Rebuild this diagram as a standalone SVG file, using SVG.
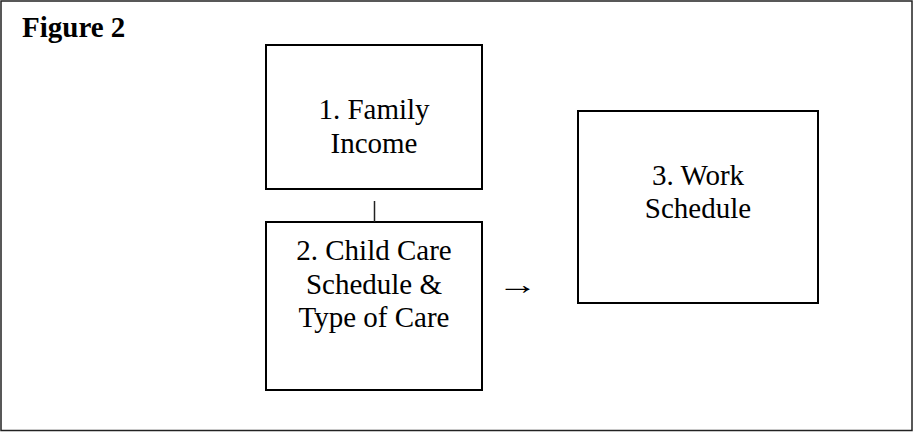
<svg xmlns="http://www.w3.org/2000/svg" width="913" height="432" viewBox="0 0 913 432">
<style>
.box{fill:#fff;stroke:#000;stroke-width:2}
.t{font-family:'Liberation Serif',serif;font-size:29px;font-weight:normal;fill:#000;text-anchor:middle}
.conn{stroke:#222;stroke-width:1.5;fill:none}
</style>
<rect x="1" y="1" width="911" height="429.5" fill="#fff" stroke="#222" stroke-width="1.5"/>
<text x="22" y="37" font-family="'Liberation Serif', serif" font-weight="bold" font-size="29" fill="#000">Figure 2</text>
<g id="node1">
<rect class="box" x="266" y="45" width="216" height="144"/>
<text class="t" x="374" y="119">1. Family</text>
<text class="t" x="374" y="153">Income</text>
</g>
<g id="node2">
<rect class="box" x="266" y="222" width="216" height="168"/>
<text class="t" x="374" y="260">2. Child Care</text>
<text class="t" x="374" y="293.5">Schedule &amp;</text>
<text class="t" x="374" y="327">Type of Care</text>
</g>
<g id="node3">
<rect class="box" x="578" y="111" width="240" height="192"/>
<text class="t" x="698" y="185">3. Work</text>
<text class="t" x="698" y="218">Schedule</text>
</g>
<g id="connectors">
<line class="conn" x1="374.5" y1="201" x2="374.5" y2="222"/>
<text class="t" transform="translate(517.5,294) scale(1.4,1)">→</text>
</g>
</svg>
